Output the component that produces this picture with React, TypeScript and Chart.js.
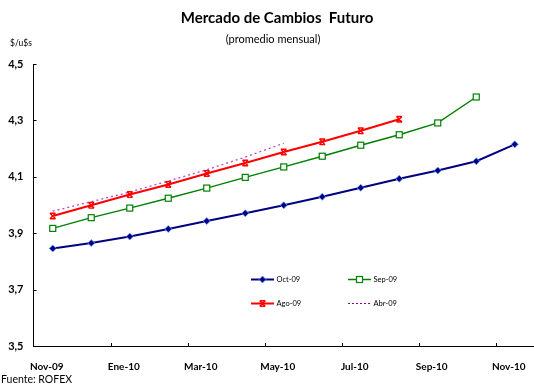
import React, { useEffect, useRef } from "react";
import { Chart, registerables } from "chart.js";

Chart.register(...registerables);

const categories = [
  "Nov-09", "Dic-09", "Ene-10", "Feb-10", "Mar-10", "Abr-10", "May-10",
  "Jun-10", "Jul-10", "Ago-10", "Sep-10", "Oct-10", "Nov-10",
];
const oct09 = [3.846, 3.865, 3.888, 3.915, 3.943, 3.971, 3.999, 4.029, 4.061, 4.093, 4.122, 4.155, 4.215];
const sep09 = [3.917, 3.955, 3.989, 4.024, 4.06, 4.098, 4.135, 4.173, 4.212, 4.249, 4.291, 4.383];
const ago09 = [3.961, 3.999, 4.037, 4.073, 4.112, 4.149, 4.188, 4.224, 4.263, 4.304];
const abr09 = [3.978, 4.012, 4.046, 4.085, 4.125, 4.17, 4.219];
const yMin = 3.5;
const yMax = 4.5;
const yStep = 0.2;

const FONT = "Lato, 'DejaVu Sans', sans-serif";

type LegendItem = { label: string; color: string; marker: string; dash: number[]; width: number };

function drawMarker(ctx: CanvasRenderingContext2D, kind: string, x: number, y: number) {
  ctx.save();
  ctx.setLineDash([]);
  if (kind === "diamond") {
    ctx.beginPath();
    ctx.moveTo(x, y - 3.5);
    ctx.lineTo(x + 3.5, y);
    ctx.lineTo(x, y + 3.5);
    ctx.lineTo(x - 3.5, y);
    ctx.closePath();
    ctx.fillStyle = "#000080";
    ctx.fill();
    ctx.strokeStyle = "rgba(110,160,255,0.8)";
    ctx.lineWidth = 1;
    ctx.stroke();
  } else if (kind === "square") {
    ctx.fillStyle = "#ffffff";
    ctx.fillRect(x - 3, y - 3, 6, 6);
    ctx.strokeStyle = "#008000";
    ctx.lineWidth = 1.2;
    ctx.strokeRect(x - 3, y - 3, 6, 6);
  } else if (kind === "x") {
    ctx.strokeStyle = "#ff0000";
    ctx.lineWidth = 1.4;
    ctx.beginPath();
    ctx.moveTo(x - 2.8, y - 2.8);
    ctx.lineTo(x + 2.8, y + 2.8);
    ctx.moveTo(x + 2.8, y - 2.8);
    ctx.lineTo(x - 2.8, y + 2.8);
    ctx.moveTo(x - 2.8, y - 2.8);
    ctx.lineTo(x + 2.8, y - 2.8);
    ctx.moveTo(x - 2.8, y + 2.8);
    ctx.lineTo(x + 2.8, y + 2.8);
    ctx.stroke();
  }
  ctx.restore();
}

const legendItems: LegendItem[] = [
  { label: "Oct-09", color: "#000080", marker: "diamond", dash: [], width: 2 },
  { label: "Sep-09", color: "#008000", marker: "square", dash: [], width: 1.5 },
  { label: "Ago-09", color: "#ff0000", marker: "x", dash: [], width: 2 },
  { label: "Abr-09", color: "#900090", marker: "none", dash: [2, 2], width: 1.2 },
];

const decorPlugin = {
  id: "decor",
  afterDraw(chart: any) {
    const ctx: CanvasRenderingContext2D = chart.ctx;
    const area = chart.chartArea;
    const xs = chart.scales.x;
    const ys = chart.scales.y;
    ctx.save();
    ctx.fillStyle = "#000";
    ctx.textBaseline = "middle";
    ctx.textAlign = "center";
    ctx.font = `bold 15px ${FONT}`;
    ctx.fillText("Mercado de Cambios  Futuro", 277, 18);
    ctx.font = `11px ${FONT}`;
    ctx.fillText("(promedio mensual)", 273, 39);
    ctx.textAlign = "left";
    ctx.font = `8.5px ${FONT}`;
    ctx.fillText("$/u$s", 10, 43);
    ctx.font = `10.5px ${FONT}`;
    ctx.fillText("Fuente: ROFEX", 1, 380);

    // inward tick marks
    ctx.strokeStyle = "#000";
    ctx.lineWidth = 1;
    ctx.beginPath();
    for (let v = yMin; v <= yMax + 1e-9; v += yStep) {
      const y = Math.round(ys.getPixelForValue(v)) + 0.5;
      ctx.moveTo(area.left, y);
      ctx.lineTo(area.left + 3, y);
    }
    for (let i = 1; i < categories.length - 1; i += 2) {
      const x = Math.round((xs.getPixelForValue(i) + xs.getPixelForValue(i + 1)) / 2) + 0.5;
      ctx.moveTo(x, area.bottom);
      ctx.lineTo(x, area.bottom - 3);
    }
    ctx.stroke();

    // legend
    const pos = [
      [251, 279.5],
      [348, 279.5],
      [251, 303.5],
      [348, 303.5],
    ];
    ctx.font = `7.5px ${FONT}`;
    legendItems.forEach((it, k) => {
      const [lx, ly] = pos[k];
      ctx.save();
      ctx.strokeStyle = it.color;
      ctx.lineWidth = it.width;
      ctx.setLineDash(it.dash);
      ctx.beginPath();
      ctx.moveTo(lx, ly);
      ctx.lineTo(lx + 23, ly);
      ctx.stroke();
      ctx.restore();
      drawMarker(ctx, it.marker, lx + 11.5, ly);
      ctx.fillStyle = "#000";
      ctx.fillText(it.label, lx + 25.5, ly + 0.5);
    });
    ctx.restore();
  },
};

const markerPlugin = {
  id: "markers",
  afterDatasetsDraw(chart: any) {
    const ctx = chart.ctx;
    chart.data.datasets.forEach((ds: any, i: number) => {
      const kind = ds.markerKind;
      if (!kind || kind === "none") return;
      const meta = chart.getDatasetMeta(i);
      meta.data.forEach((pt: any, j: number) => {
        if (ds.data[j] == null) return;
        drawMarker(ctx, kind, pt.x, pt.y);
      });
    });
  },
};

export default function App() {
  const ref = useRef<HTMLCanvasElement>(null);
  useEffect(() => {
    document.body.style.margin = "0";
    const chart = new Chart(ref.current!, {
      type: "line",
      data: {
        labels: categories,
        datasets: [
          {
            label: "Abr-09",
            data: abr09,
            borderColor: "#b848c8",
            borderWidth: 1.3,
            borderDash: [2, 3],
            pointRadius: 0,
            tension: 0,
            markerKind: "none",
          } as any,
          {
            label: "Oct-09",
            data: oct09,
            borderColor: "#000080",
            borderWidth: 2,
            pointRadius: 0,
            tension: 0,
            markerKind: "diamond",
          } as any,
          {
            label: "Sep-09",
            data: sep09,
            borderColor: "#008000",
            borderWidth: 1.4,
            pointRadius: 0,
            tension: 0,
            markerKind: "square",
          } as any,
          {
            label: "Ago-09",
            data: ago09,
            borderColor: "#ff0000",
            borderWidth: 2,
            pointRadius: 0,
            tension: 0,
            markerKind: "x",
          } as any,
        ],
      },
      options: {
        animation: false,
        responsive: false,
        layout: { padding: { top: 64, right: 0, left: 0, bottom: 0 } },
        plugins: { legend: { display: false }, title: { display: false }, tooltip: { enabled: false } },
        scales: {
          x: {
            offset: true,
            grid: { display: false, drawTicks: false },
            border: { display: true, color: "#000", width: 1 },
            ticks: {
              autoSkip: false,
              maxRotation: 0,
              minRotation: 0,
              padding: 15,
              labelOffset: -6,
              color: "#000",
              font: { family: FONT, size: 10, weight: "bold" },
              callback: (_v: any, i: number) => (i % 2 === 0 ? categories[i] : ""),
            },
            afterFit: (s: any) => {
              s.height = 39;
              s.paddingLeft = 0;
              s.paddingRight = 0;
            },
          },
          y: {
            min: yMin,
            max: yMax,
            grid: { display: false, drawTicks: false },
            border: { display: true, color: "#000", width: 1 },
            ticks: {
              stepSize: yStep,
              padding: 10,
              color: "#000",
              font: { family: FONT, size: 11, weight: "bold" },
              callback: (v: any) => Number(v).toFixed(1).replace(".", ","),
            },
            afterFit: (s: any) => {
              s.width = 33.5;
              s.paddingTop = 0;
              s.paddingBottom = 0;
            },
          },
        },
      } as any,
      plugins: [markerPlugin, decorPlugin],
    });
    return () => chart.destroy();
  }, []);
  return (
    <div style={{ position: "absolute", left: 0, top: 0, width: 534, height: 385, background: "#fff" }}>
      <canvas ref={ref} width={534} height={385} style={{ display: "block" }} />
    </div>
  );
}
